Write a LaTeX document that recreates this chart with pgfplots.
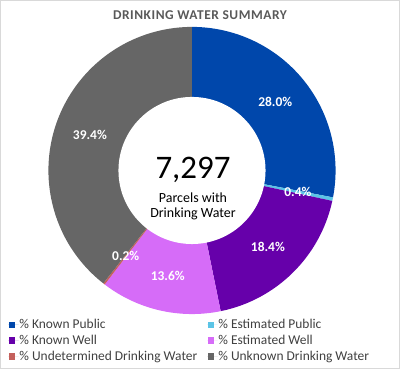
\documentclass[border=0pt]{standalone}
\usepackage{pgfplots}
\pgfplotsset{compat=1.18}
\usepackage{pgfplotstable}
\usepackage{fontspec}
\setmainfont{Carlito}
\newfontfamily\titlefont[LetterSpace=4]{Carlito}
\definecolor{kpub}{RGB}{0,71,171}
\definecolor{epub}{RGB}{91,196,230}
\definecolor{kwell}{RGB}{102,0,170}
\definecolor{ewell}{RGB}{214,108,248}
\definecolor{undet}{RGB}{196,96,92}
\definecolor{unk}{RGB}{102,102,102}
\definecolor{titlegray}{RGB}{89,89,89}
\definecolor{leggray}{RGB}{64,64,64}
\pgfplotstableread{
name value col
KnownPublic 28.0 kpub
EstimatedPublic 0.4 epub
KnownWell 18.4 kwell
EstimatedWell 13.6 ewell
Undetermined 0.2 undet
Unknown 39.4 unk
}\datatable
\begin{document}
\begin{tikzpicture}
\xdef\cum{0}
\foreach \i in {0,...,5}{%
  \pgfplotstablegetelem{\i}{value}\of\datatable
  \pgfmathsetmacro\va{\pgfplotsretval}
  \expandafter\xdef\csname val\i\endcsname{\pgfplotsretval}
  \pgfmathsetmacro\sa{90-3.6*\cum}
  \pgfmathsetmacro\ea{90-3.6*(\cum+\va)}
  \pgfmathsetmacro\ma{(\sa+\ea)/2}
  \pgfmathsetmacro\lx{192+108*cos(\ma)}
  \pgfmathsetmacro\ly{198.5+108*sin(\ma)}
  \pgfplotstablegetelem{\i}{col}\of\datatable
  \expandafter\xdef\csname col\i\endcsname{\pgfplotsretval}
  \expandafter\xdef\csname sa\i\endcsname{\sa}
  \expandafter\xdef\csname ea\i\endcsname{\ea}
  \expandafter\xdef\csname lx\i\endcsname{\lx}
  \expandafter\xdef\csname ly\i\endcsname{\ly}
  \pgfmathsetmacro\newcum{\cum+\va}
  \xdef\cum{\newcum}
}
\begin{axis}[
  scale only axis, width=400bp, height=369bp,
  xmin=0, xmax=400, ymin=0, ymax=369,
  hide axis, clip=false,
  legend columns=2,
  legend cell align=left,
  legend style={at={(axis cs:5,52.5)}, anchor=north west, draw=none, fill=none,
    font=\fontsize{13.5}{15}\selectfont\color{leggray},
    nodes={inner sep=0.8bp},
    row sep=3.2bp,
    /tikz/every even column/.append style={column sep=9bp}},
  legend image code/.code={\path (-0.5bp,0bp) -- (10bp,0bp); \fill[#1,draw=none] (0bp,-3.3bp) rectangle (6.6bp,3.3bp);},
]
\draw[black!15, line width=0.8bp] (axis cs:0.5,0.5) rectangle (axis cs:399.5,368.5);
\addlegendimage{fill=kpub,draw=none}\addlegendentry{\% Known Public}
\addlegendimage{fill=epub,draw=none}\addlegendentry{\% Estimated Public}
\addlegendimage{fill=kwell,draw=none}\addlegendentry{\% Known Well}
\addlegendimage{fill=ewell,draw=none}\addlegendentry{\% Estimated Well}
\addlegendimage{fill=undet,draw=none}\addlegendentry{\% Undetermined Drinking Water}
\addlegendimage{fill=unk,draw=none}\addlegendentry{\% Unknown Drinking Water}
\pgfplotsinvokeforeach{0,...,5}{
  \fill[fill=\csname col#1\endcsname] (axis cs:192,198.5) -- ++(\csname sa#1\endcsname:143.5bp)
    arc[start angle=\csname sa#1\endcsname, end angle=\csname ea#1\endcsname, radius=143.5bp] -- cycle;
}
\fill[white] (axis cs:192,198.5) circle[radius=73.5bp];
\pgfplotsinvokeforeach{0,...,5}{
  \node[text=white, font=\bfseries\fontsize{13.5}{15}\selectfont]
    at (axis cs:\csname lx#1\endcsname,\csname ly#1\endcsname)
    {\pgfmathprintnumber[fixed,fixed zerofill,precision=1,assume math mode=true]{\csname val#1\endcsname}\%};
}
\node[text=titlegray, font=\titlefont\bfseries\fontsize{13.5}{15}\selectfont] at (axis cs:200,353.5) {DRINKING WATER SUMMARY};
\node[anchor=base, font=\fontsize{33}{36}\selectfont] at (axis cs:193,190) {7,297};
\node[anchor=base, font=\fontsize{14}{16}\selectfont] at (axis cs:193,166) {Parcels with};
\node[anchor=base, font=\fontsize{14}{16}\selectfont] at (axis cs:193,151.5) {Drinking Water};
\end{axis}
\end{tikzpicture}
\end{document}
